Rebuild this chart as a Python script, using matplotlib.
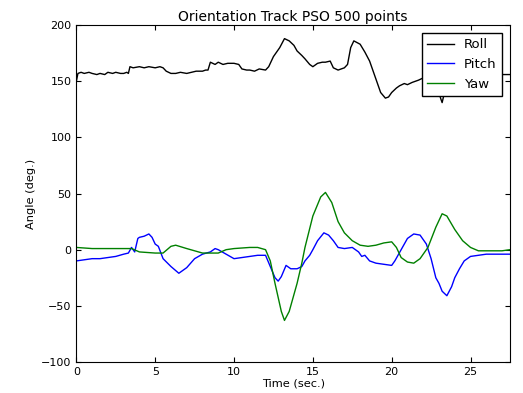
import matplotlib
matplotlib.use("Agg")
import matplotlib.pyplot as plt

# Roll (black)
roll_t = [0.0, 0.1, 0.3, 0.5, 0.8, 1.0, 1.3, 1.5, 1.8, 2.0, 2.3, 2.5, 2.8, 3.0, 3.2, 3.3, 3.4, 3.6,
          4.0, 4.3, 4.6, 5.0, 5.3, 5.5, 5.7, 6.0, 6.3, 6.6, 7.0, 7.3, 7.6, 8.0, 8.2, 8.35, 8.5, 8.8,
          9.0, 9.3, 9.6, 10.0, 10.3, 10.5, 10.8, 11.0, 11.3, 11.6, 12.0, 12.2, 12.5, 12.9, 13.2,
          13.5, 13.8, 14.0, 14.3, 14.5, 14.8, 15.0, 15.3, 15.6, 15.8, 16.1, 16.3, 16.6, 17.0,
          17.2, 17.4, 17.6, 18.0, 18.3, 18.6, 19.0, 19.3, 19.6, 19.8, 20.0, 20.3, 20.5, 20.8,
          21.0, 21.3, 21.7, 22.0, 22.4, 22.8, 23.0, 23.1, 23.2, 23.3, 23.5, 24.0, 24.5, 25.0,
          25.5, 26.0, 26.5, 27.0, 27.5]
roll = [150, 157, 158, 157, 158, 157, 156, 157, 156, 158, 157, 158, 157, 157, 158, 157, 163, 162,
        163, 162, 163, 162, 163, 162, 159, 157, 157, 158, 157, 158, 159, 159, 160, 160, 167, 165,
        167, 165, 166, 166, 165, 161, 160, 160, 159, 161, 160, 163, 172, 180, 188,
        186, 182, 177, 173, 170, 165, 163, 166, 167, 167, 168, 162, 160, 162,
        165, 180, 186, 183, 176, 168, 152, 140, 135, 136, 140, 144, 146, 148,
        147, 149, 151, 153, 150, 146, 140, 135, 131, 137, 142, 148, 151, 153,
        154, 155, 155, 156, 156]

# Pitch (blue)
pitch_t = [0.0, 0.5, 1.0, 1.5, 2.0, 2.5, 3.0, 3.3, 3.5, 3.7, 3.9, 4.0, 4.3, 4.6, 4.8, 5.0, 5.2,
           5.5, 6.0, 6.5, 7.0, 7.5, 8.0, 8.5, 8.8, 9.0, 9.5, 10.0, 10.5, 11.0, 11.5, 12.0, 12.3,
           12.6, 12.8, 13.0, 13.3, 13.6, 14.0, 14.3, 14.5, 14.8, 15.0, 15.3, 15.7, 16.0, 16.3,
           16.6, 17.0, 17.5, 17.9, 18.1, 18.3, 18.6, 19.0, 19.5, 20.0, 20.2, 20.6, 21.0, 21.4,
           21.8, 22.2, 22.5, 22.8, 23.0, 23.2, 23.5, 23.8, 24.0, 24.3, 24.6, 25.0, 25.5, 26.0,
           26.5, 27.0, 27.5]
pitch = [-10, -9, -8, -8, -7, -6, -4, -3, 2, -2, 10, 11, 12, 14, 11, 5, 3,
         -8, -15, -21, -16, -8, -4, -2, 1, 0, -4, -8, -7, -6, -5, -5, -15,
         -25, -28, -24, -14, -17, -17, -15, -10, -5, 0, 8, 15, 13, 8,
         2, 1, 2, -2, -6, -5, -10, -12, -13, -14, -10, 0, 10, 14,
         13, 5, -8, -25, -30, -37, -41, -33, -25, -17, -10, -6, -5, -4,
         -4, -4, -4]

# Yaw (green)
yaw_t = [0.0, 1.0, 2.0, 3.0, 3.5, 4.0, 5.0, 5.5, 6.0, 6.3, 7.0, 7.5, 8.0, 9.0, 9.5, 10.0, 11.0,
         11.5, 12.0, 12.3, 12.6, 13.0, 13.2, 13.5, 14.0, 14.3, 14.5, 15.0, 15.5, 15.8, 16.2,
         16.6, 17.0, 17.5, 18.0, 18.5, 19.0, 19.5, 20.0, 20.3, 20.6, 21.0, 21.4, 21.8, 22.3,
         22.8, 23.2, 23.5, 24.0, 24.5, 25.0, 25.5, 26.0, 27.0, 27.5]
yaw = [2, 1, 1, 1, 1, -2, -3, -3, 3, 4, 1, -1, -3, -3, 0, 1, 2,
       2, 0, -10, -30, -55, -63, -55, -30, -12, 2, 30, 47, 51, 42,
       25, 15, 8, 4, 3, 4, 6, 7, 2, -7, -11, -12, -8, 2,
       20, 32, 30, 18, 8, 2, -1, -1, -1, 0]

plt.rcParams.update({'font.size': 8, 'xtick.direction': 'in', 'ytick.direction': 'in',
                     'xtick.top': True, 'ytick.right': True})

fig = plt.figure(figsize=(5.23, 3.93), dpi=100)
ax = fig.add_axes([0.146, 0.079, 0.829, 0.857])

ax.plot(roll_t, roll, color='k', linewidth=1.0, label='Roll')
ax.plot(pitch_t, pitch, color='b', linewidth=1.0, label='Pitch')
ax.plot(yaw_t, yaw, color='g', linewidth=1.0, label='Yaw')

ax.set_xlim(0, 27.5)
ax.set_ylim(-100, 200)
ax.set_xticks([0, 5, 10, 15, 20, 25])
ax.set_yticks([-100, -50, 0, 50, 100, 150, 200])
ax.set_title('Orientation Track PSO 500 points', fontsize=10, pad=3)
ax.set_xlabel('Time (sec.)', fontsize=8.2, labelpad=1)
ax.set_ylabel('Angle (deg.)', fontsize=8.2)

ax.legend(loc='upper right', fontsize=9.5, fancybox=False, edgecolor='k', framealpha=1,
          borderaxespad=0.6)

plt.savefig('out.png', dpi=100)
